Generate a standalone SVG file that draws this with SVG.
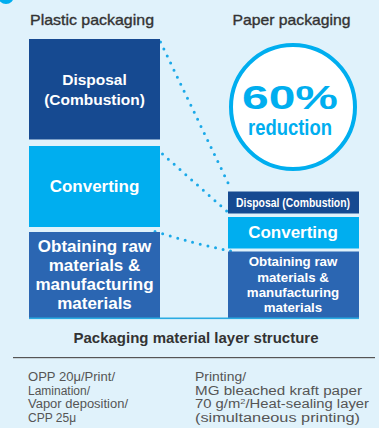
<svg xmlns="http://www.w3.org/2000/svg" width="379" height="428" viewBox="0 0 379 428">
<style>
.bg{fill:#e0f2fb}
.dark{fill:#164a91}
.cyan{fill:#00aeef}
.mid{fill:#2b66b2}
.lbl{font-family:"Liberation Sans",Arial,sans-serif;font-weight:bold;fill:#fff;text-anchor:middle}
.hdr{font-family:"Liberation Sans",Arial,sans-serif;fill:#333;stroke:#333;stroke-width:0.35;text-anchor:middle;font-size:15px}
.note{font-family:"Liberation Sans",Arial,sans-serif;fill:#555;font-size:12px}
.dots{fill:none;stroke:#1aa9e8;stroke-width:3;stroke-linecap:round;stroke-dasharray:0 7.8}
</style>
<rect class="bg" x="0" y="0" width="379" height="428"/>
<circle cx="6" cy="-4" r="8" fill="#00aeef"/>
<text class="hdr" x="92" y="25" textLength="124" lengthAdjust="spacingAndGlyphs">Plastic packaging</text>
<text class="hdr" x="291.5" y="25" textLength="118" lengthAdjust="spacingAndGlyphs">Paper packaging</text>

<g id="connectors">
<path class="dots" d="M160.5,42 L231,189"/>
<path class="dots" d="M162.5,154 L230,214"/>
<path class="dots" d="M155,231.5 Q195,244 231,251"/>
</g>

<g id="reduction">
<circle cx="293" cy="107" r="62" fill="#fff" stroke="#00aeef" stroke-width="4"/>
<text x="290" y="108.5" font-family="'Liberation Sans',Arial,sans-serif" font-weight="bold" font-size="33" fill="#00aeef" text-anchor="middle" textLength="96" lengthAdjust="spacingAndGlyphs">60%</text>
<text x="290" y="135" font-family="'Liberation Sans',Arial,sans-serif" font-weight="bold" font-size="22" fill="#00aeef" text-anchor="middle" textLength="84" lengthAdjust="spacingAndGlyphs">reduction</text>
</g>

<g id="plastic-disposal">
<rect class="dark" x="29" y="39" width="131" height="100.5"/>
<text class="lbl" x="94.5" y="85" font-size="15.5">Disposal</text>
<text class="lbl" x="94.5" y="105" font-size="15.5">(Combustion)</text>
</g>
<g id="plastic-converting">
<rect class="cyan" x="29" y="146" width="131" height="81"/>
<text class="lbl" x="94.5" y="192" font-size="17">Converting</text>
</g>
<g id="plastic-raw">
<rect class="mid" x="29" y="232" width="131" height="86"/>
<text class="lbl" x="94.5" y="252" font-size="17">Obtaining raw</text>
<text class="lbl" x="94.5" y="271" font-size="17">materials &amp;</text>
<text class="lbl" x="94.5" y="290" font-size="17">manufacturing</text>
<text class="lbl" x="94.5" y="309" font-size="17">materials</text>
</g>

<g id="paper-disposal">
<rect class="dark" x="228" y="191.5" width="131" height="22"/>
<text class="lbl" x="293" y="207" font-size="12" textLength="114" lengthAdjust="spacingAndGlyphs">Disposal (Combustion)</text>
</g>
<g id="paper-converting">
<rect class="cyan" x="228" y="217" width="131" height="31.5"/>
<text class="lbl" x="293" y="238" font-size="17">Converting</text>
</g>
<g id="paper-raw">
<rect class="mid" x="228" y="251.5" width="131" height="66.5"/>
<text class="lbl" x="293" y="266" font-size="13.3">Obtaining raw</text>
<text class="lbl" x="293" y="281.5" font-size="13.3">materials &amp;</text>
<text class="lbl" x="293" y="297" font-size="13.3">manufacturing</text>
<text class="lbl" x="293" y="312" font-size="13.3">materials</text>
</g>

<rect x="29" y="317.5" width="330" height="1.6" fill="#29abe2"/>

<text x="196" y="343" font-family="'Liberation Sans',Arial,sans-serif" font-weight="bold" font-size="15" fill="#333" text-anchor="middle">Packaging material layer structure</text>
<rect x="13" y="357" width="362" height="1.2" fill="#555"/>

<g id="notes">
<text class="note" x="28" y="381" textLength="87" lengthAdjust="spacingAndGlyphs">OPP 20μ/Print/</text>
<text class="note" x="28" y="394.5">Lamination/</text>
<text class="note" x="28" y="408" textLength="100" lengthAdjust="spacingAndGlyphs">Vapor deposition/</text>
<text class="note" x="28" y="421.5">CPP 25μ</text>
<text class="note" x="195" y="381" textLength="51" lengthAdjust="spacingAndGlyphs">Printing/</text>
<text class="note" x="195" y="394.5" textLength="167" lengthAdjust="spacingAndGlyphs">MG bleached kraft paper</text>
<text class="note" x="195" y="408" textLength="174" lengthAdjust="spacingAndGlyphs">70 g/m<tspan font-size="7.5" dy="-4.5">2</tspan><tspan dy="4.5">/Heat-sealing layer</tspan></text>
<text class="note" x="195" y="421.5" textLength="165" lengthAdjust="spacingAndGlyphs">(simultaneous printing)</text>
</g>
</svg>
